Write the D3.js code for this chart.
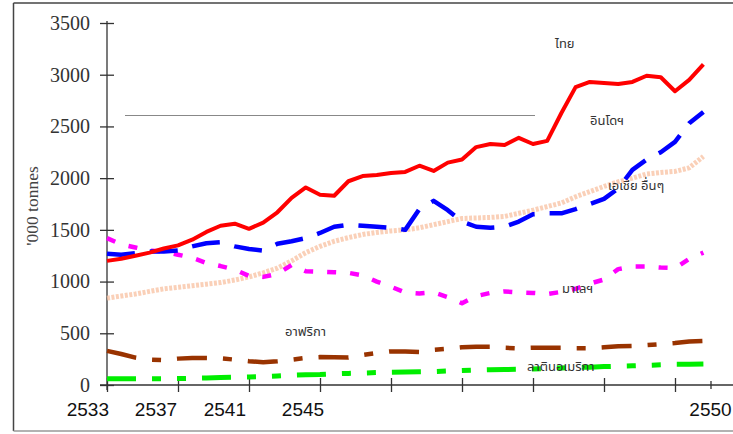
<!DOCTYPE html>
<html><head><meta charset="utf-8">
<script src="https://cdn.jsdelivr.net/npm/d3@7"></script>
<style>html,body{margin:0;padding:0;background:#fff;}svg{display:block;}</style>
</head><body><svg id="c" width="733" height="434"></svg>
<script>
// x positions (in tick units, one tick = 4 label steps as drawn), sampled every 0.2
const xs = d3.range(0, 43).map(i => i * 0.2);
const thailand = [1200,1220,1250,1280,1320,1350,1405,1480,1540,1560,1510,1570,1670,1810,1910,1840,1830,1970,2020,2030,2050,2060,2120,2070,2150,2180,2300,2330,2320,2390,2330,2360,2630,2880,2930,2920,2910,2930,2990,2975,2840,2950,3100];
const indonesia = [1270,1260,1275,1290,1290,1300,1340,1370,1380,1340,1315,1300,1365,1390,1420,1470,1530,1550,1540,1530,1520,1500,1700,1780,1690,1580,1530,1520,1530,1580,1650,1660,1660,1700,1750,1800,1900,2080,2180,2250,2350,2530,2640];
const malaysia = [1420,1360,1330,1300,1290,1260,1230,1180,1150,1115,1055,1045,1075,1160,1100,1095,1090,1085,1060,1000,950,895,885,895,850,790,860,890,905,895,890,880,900,930,980,1020,1120,1145,1145,1135,1130,1220,1280];
const otherAsia = [840,860,880,905,930,945,960,975,990,1015,1045,1085,1130,1200,1280,1340,1390,1425,1455,1475,1490,1500,1520,1550,1580,1610,1615,1620,1630,1660,1690,1725,1760,1820,1870,1920,1965,2000,2040,2055,2065,2100,2210];
const africa = [330,300,265,245,240,255,262,260,258,245,230,220,230,245,262,270,268,265,290,310,325,325,320,340,350,365,370,370,360,355,360,360,360,355,355,365,375,378,385,395,405,420,425];
const latinAmerica = [60,60,60,60,60,62,65,68,72,75,78,82,88,95,100,102,108,112,116,120,123,125,128,130,135,140,145,148,150,152,155,160,165,170,172,178,182,185,190,195,200,200,202];

const seriesNames = ["ไทย","อินโดฯ","มาเลฯ","เอเชีย อื่นๆ","อาฟริกา","ลาตินอเมริกา"];
const seriesColors = ["#ff0000","#0000ff","#ff00ff","#f9c4a6","#993300","#00ee00"];

const yTicks = [0,500,1000,1500,2000,2500,3000,3500];
const xTickValues = [0,1,2,3,4,5,6,7,8,8.5];
const xLabels = ["2533","2537","2541","2545","2550"];
const xLabelPos = [-0.27,0.69,1.66,2.76,8.5];
const yTitle = "'000 tonnes";

const svg = d3.select("#c");
const x = d3.scaleLinear().domain([0, 8.5]).range([107, 710.5]);
const y = d3.scaleLinear().domain([0, 3500]).range([385, 23]);

// frame
svg.append("line").attr("x1",13.5).attr("x2",733).attr("y1",3).attr("y2",3).attr("stroke","#444").attr("stroke-width",1.5);
svg.append("line").attr("x1",13.5).attr("x2",13.5).attr("y1",3).attr("y2",431).attr("stroke","#444").attr("stroke-width",1.5);
svg.append("line").attr("x1",13.5).attr("x2",733).attr("y1",431).attr("y2",431).attr("stroke","#999").attr("stroke-width",1.5);

// stray grey line
svg.append("line").attr("x1",125).attr("x2",535).attr("y1",115.5).attr("y2",115.5).attr("stroke","#888").attr("stroke-width",1);

// y axis
const yAxis = d3.axisLeft(y).tickValues(yTicks).tickSize(0).tickPadding(17).tickFormat(d3.format("d"));
const gy = svg.append("g").attr("transform","translate(107,0)").call(yAxis);
gy.select(".domain").remove();
gy.selectAll("text").attr("font-family","'Liberation Serif', 'Times New Roman', serif").attr("font-size",20).attr("fill","#333");
gy.selectAll(".tick").append("line").attr("x1",-7).attr("x2",7).attr("stroke","#333").attr("stroke-width",1.3);
svg.append("line").attr("x1",107).attr("x2",107).attr("y1",21).attr("y2",390).attr("stroke","#333").attr("stroke-width",1.3);

// x axis
const xAxis = d3.axisBottom(x).tickValues(xTickValues).tickSize(0).tickFormat("");
const gx = svg.append("g").attr("transform","translate(0,385)").call(xAxis);
gx.select(".domain").remove();
gx.selectAll(".tick").append("line").attr("y1",d => d===8.5 ? -4 : -7).attr("y2",d => d===8.5 ? 4 : 7).attr("stroke","#333").attr("stroke-width",1.3);
svg.append("line").attr("x1",100).attr("x2",733).attr("y1",385).attr("y2",385).attr("stroke","#333").attr("stroke-width",1.3);
svg.append("g").selectAll("text").data(xLabels).join("text")
  .attr("x",(d,i)=>x(xLabelPos[i])).attr("y",416).attr("text-anchor","middle")
  .attr("font-family","'Liberation Sans', Arial, sans-serif").attr("font-size",19).attr("fill","#111").text(d=>d);

// y title
svg.append("text").attr("transform","translate(38,206) rotate(-90)").attr("text-anchor","middle")
  .attr("font-family","'Liberation Serif', 'Times New Roman', serif").attr("font-size",17.5).attr("fill","#444").text(yTitle);

// lines
const line = d3.line().x((d,i)=>x(xs[i])).y(d=>y(d)).curve(d3.curveLinear);
const allSeries = [thailand, indonesia, malaysia, otherAsia, africa, latinAmerica];
const widths = [4,4.5,4.5,5,4.5,5];
const dashes = [null,"28,15","9,14","3,1.5","30,16,9,16","29,16,9,16,9,16"];
const opac = [1,1,1,0.8,1,1];
const order = [3,5,4,2,1,0];
order.forEach(k=>{
  svg.append("path").datum(allSeries[k]).attr("d",line).attr("fill","none")
    .attr("stroke",seriesColors[k]).attr("stroke-width",widths[k]).attr("stroke-opacity",opac[k])
    .attr("stroke-dasharray",dashes[k]).attr("stroke-linejoin","round");
});

// series labels
const labelPos = [[555,48],[590,125],[562,293],[608,190],[285,336],[527,371]];
svg.append("g").selectAll("text").data(seriesNames).join("text")
  .attr("x",(d,i)=>labelPos[i][0]).attr("y",(d,i)=>labelPos[i][1])
  .attr("font-family","Tahoma, 'Noto Sans Thai', 'DejaVu Sans', sans-serif").attr("font-size",13).attr("fill","#333").text(d=>d);
</script></body></html>
